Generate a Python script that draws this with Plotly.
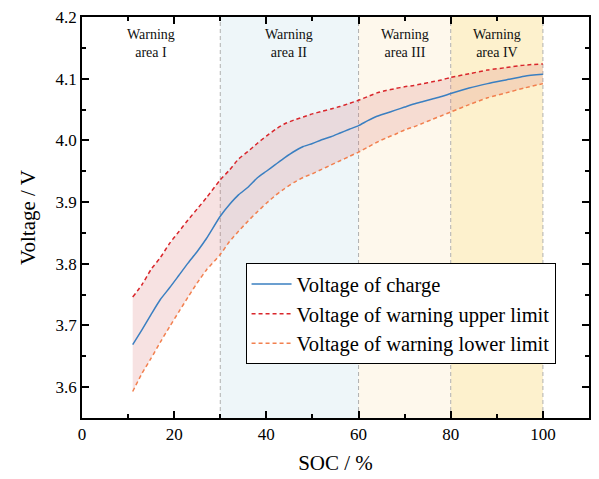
import plotly.graph_objects as go

soc = [11, 13, 15, 17, 19, 21, 23, 25, 27, 30, 32, 34, 36, 38, 40, 42, 44, 46, 48, 50,
       52, 54, 56, 58, 60, 62, 64, 66, 68, 70, 72, 74, 76, 78, 80, 84, 88, 92, 96, 100]
v_charge = [3.669, 3.693, 3.718, 3.742, 3.761, 3.781, 3.801, 3.820, 3.841, 3.877,
            3.896, 3.912, 3.924, 3.939, 3.950, 3.961, 3.972, 3.982, 3.990, 3.995,
            4.001, 4.006, 4.012, 4.018, 4.024, 4.032, 4.039, 4.044, 4.049, 4.054,
            4.059, 4.063, 4.067, 4.071, 4.076, 4.085, 4.092, 4.098, 4.104, 4.107]
v_upper = [3.746, 3.766, 3.791, 3.810, 3.833, 3.852, 3.871, 3.889, 3.907, 3.936,
           3.952, 3.970, 3.982, 3.995, 4.007, 4.018, 4.027, 4.033, 4.038, 4.043,
           4.047, 4.051, 4.055, 4.060, 4.065, 4.071, 4.077, 4.081, 4.084, 4.087,
           4.089, 4.092, 4.095, 4.098, 4.102, 4.108, 4.114, 4.118, 4.122, 4.124]
v_lower = [3.593, 3.622, 3.647, 3.673, 3.698, 3.722, 3.746, 3.769, 3.790, 3.815,
           3.836, 3.853, 3.869, 3.884, 3.898, 3.911, 3.922, 3.932, 3.940, 3.946,
           3.953, 3.960, 3.967, 3.974, 3.981, 3.989, 3.997, 4.004, 4.010, 4.017,
           4.022, 4.028, 4.034, 4.040, 4.046, 4.058, 4.069, 4.077, 4.085, 4.092]

region_starts = [30, 60, 80]
region_ends = [60, 80, 100]
region_colors = ["#eef6f9", "#fef8ec", "#fdf1cd"]
boundaries = [30, 60, 80, 100]
area_centers = [15, 45, 70, 90]
area_labels = ["Warning<br>area I", "Warning<br>area II", "Warning<br>area III", "Warning<br>area IV"]

FONT = "Liberation Serif"

fig = go.Figure()

# band fill
fig.add_trace(go.Scatter(x=soc, y=v_lower, mode="lines", line=dict(width=0, shape="spline", smoothing=0.6),
                         showlegend=False, hoverinfo="skip"))
fig.add_trace(go.Scatter(x=soc, y=v_upper, mode="lines", line=dict(width=0, shape="spline", smoothing=0.6),
                         fill="tonexty", fillcolor="rgba(214,110,110,0.2)",
                         showlegend=False, hoverinfo="skip"))

fig.add_trace(go.Scatter(x=soc, y=v_charge, mode="lines", name="Voltage of charge",
                         line=dict(color="#3a7fc1", width=1.5, shape="spline", smoothing=0.6)))
fig.add_trace(go.Scatter(x=soc, y=v_upper, mode="lines", name="Voltage of warning upper limit",
                         line=dict(color="#d9262b", width=1.5, dash="4px,3px", shape="spline", smoothing=0.6)))
fig.add_trace(go.Scatter(x=soc, y=v_lower, mode="lines", name="Voltage of warning lower limit",
                         line=dict(color="#f2804f", width=1.5, dash="4px,3px", shape="spline", smoothing=0.6)))

shapes = []
for s, e, c in zip(region_starts, region_ends, region_colors):
    shapes.append(dict(type="rect", xref="x", yref="paper", x0=s, x1=e, y0=0, y1=1,
                       fillcolor=c, line=dict(width=0), layer="below"))
for b in boundaries:
    shapes.append(dict(type="line", xref="x", yref="paper", x0=b, x1=b, y0=0, y1=1,
                       line=dict(color="#b0b0b0", width=1, dash="4px,3px"), layer="below"))

annotations = []
for cx, lab in zip(area_centers, area_labels):
    annotations.append(dict(x=cx, y=0.935, xref="x", yref="paper", text=lab, showarrow=False,
                            font=dict(family=FONT, size=14, color="#111111"),
                            xanchor="center", yanchor="middle"))

axis_common = dict(showline=True, linecolor="black", linewidth=1.5, mirror="allticks",
                   ticks="inside", ticklen=7, tickwidth=1.5, tickcolor="black",
                   showgrid=False, zeroline=False,
                   tickfont=dict(family=FONT, size=17, color="black"))

fig.update_layout(
    width=599, height=479,
    margin=dict(l=82, r=8, t=9, b=61),
    paper_bgcolor="white", plot_bgcolor="white",
    font=dict(family=FONT),
    shapes=shapes, annotations=annotations,
    xaxis=dict(range=[0, 110], tickvals=[0, 20, 40, 60, 80, 100],
               minor=dict(ticks="inside", ticklen=4, tickwidth=1.5, tickcolor="black", dtick=10, showgrid=False),
               title=dict(text="SOC / %", font=dict(family=FONT, size=21, color="black"), standoff=12),
               **axis_common),
    yaxis=dict(range=[3.55, 4.2], tickvals=[3.6, 3.7, 3.8, 3.9, 4.0, 4.1, 4.2],
               ticktext=["3.6", "3.7", "3.8", "3.9", "4.0", "4.1", "4.2"],
               minor=dict(ticks="inside", ticklen=4, tickwidth=1.5, tickcolor="black", dtick=0.05, showgrid=False),
               title=dict(text="Voltage / V", font=dict(family=FONT, size=21, color="black"), standoff=14),
               **axis_common),
    legend=dict(x=0.3226, y=0.386, xanchor="left", yanchor="top", traceorder="normal",
                bgcolor="white", bordercolor="black", borderwidth=1,
                font=dict(family=FONT, size=20.5, color="black"),
                tracegroupgap=0, itemwidth=40),
    showlegend=True,
)

fig.write_html("out.html")
